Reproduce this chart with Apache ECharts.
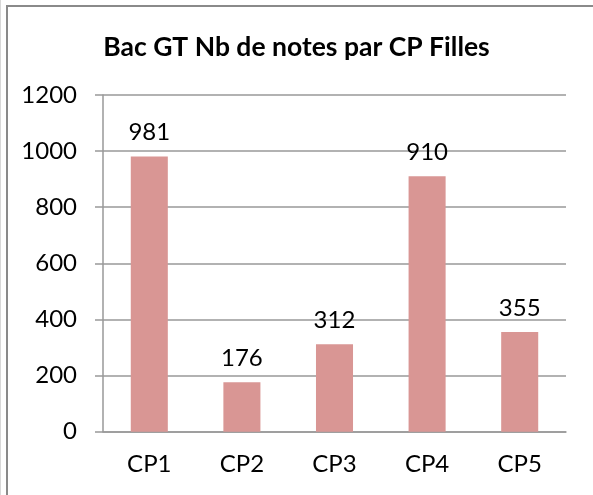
<!DOCTYPE html>
<html>
<head>
<meta charset="utf-8">
<script src="https://cdn.jsdelivr.net/npm/echarts@6/dist/echarts.min.js"></script>
<style>
html,body{margin:0;padding:0;background:#fff;}
#chart{width:593px;height:495px;}
</style>
</head>
<body>
<div id="chart"></div>
<script>
const titleText = 'Bac GT Nb de notes par CP Filles';
const categories = ['CP1', 'CP2', 'CP3', 'CP4', 'CP5'];
const values = [981, 176, 312, 910, 355];
const yTicks = { min: 0, max: 1200, interval: 200 };

const FONT = 'Lato';
const chart = echarts.init(document.getElementById('chart'), null, { renderer: 'canvas' });
chart.setOption({
  animation: false,
  backgroundColor: '#fff',
  title: {
    text: titleText,
    left: 'center',
    top: 29,
    textStyle: { fontFamily: FONT, fontWeight: 'bold', fontSize: 26.5, color: '#000' }
  },
  graphic: [
    { type: 'rect', shape: { x: 7, y: 6, width: 700, height: 700 }, style: { fill: 'none', stroke: '#8a8a8a', lineWidth: 2 } },
    { type: 'line', shape: { x1: 0.5, y1: 0, x2: 0.5, y2: 495 }, style: { stroke: '#d8d8d8', lineWidth: 1 } }
  ],
  grid: { left: 103, right: 27, top: 95, bottom: 63.3 },
  xAxis: {
    type: 'category',
    data: categories,
    axisLine: { lineStyle: { color: '#999', width: 1.5 } },
    axisTick: { length: 8, lineStyle: { color: '#999', width: 1.5 } },
    axisLabel: { margin: 21, fontFamily: FONT, fontSize: 24, color: '#000' }
  },
  yAxis: {
    type: 'value',
    min: yTicks.min, max: yTicks.max, interval: yTicks.interval,
    axisLine: { show: true, lineStyle: { color: '#999', width: 1.5 } },
    axisTick: { show: true, length: 8, lineStyle: { color: '#999', width: 1.5 } },
    splitLine: { lineStyle: { color: '#999', width: 1.5 } },
    axisLabel: { margin: 26, fontFamily: FONT, fontSize: 24, color: '#000', formatter: v => String(v) }
  },
  series: [{
    type: 'bar',
    data: values,
    barWidth: '40%',
    itemStyle: { color: '#d99694' },
    label: { show: true, position: 'top', distance: 12, fontFamily: FONT, fontSize: 24, color: '#000' }
  }]
});
</script>
</body>
</html>
